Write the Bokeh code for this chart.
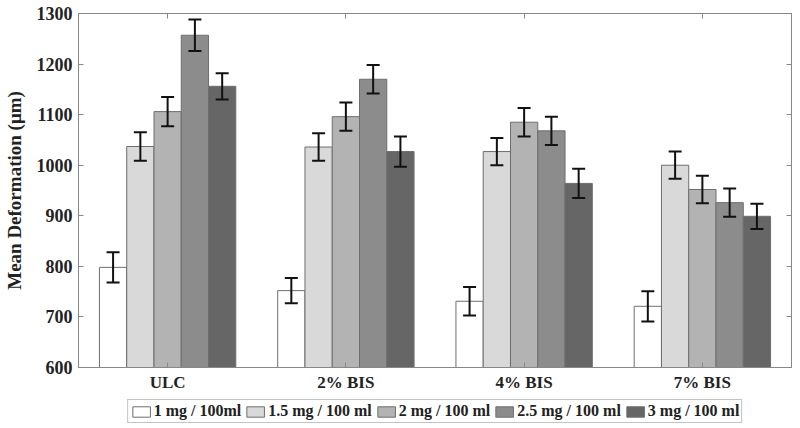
from bokeh.plotting import figure
from bokeh.layouts import column
from bokeh.models import (ColumnDataSource, FixedTicker, LinearAxis, Legend, LegendItem,
                          Whisker, TeeHead, Range1d)
from bokeh.embed import file_html
from bokeh.resources import INLINE

categories = ["ULC", "2% BIS", "4% BIS", "7% BIS"]
series = ["1 mg / 100ml", "1.5 mg / 100 ml", "2 mg / 100 ml", "2.5 mg / 100 ml", "3 mg / 100 ml"]
values = [
    [798, 752, 731, 721],
    [1037, 1036, 1027, 1000],
    [1106, 1096, 1085, 952],
    [1257, 1170, 1068, 926],
    [1156, 1027, 964, 899],
]
errors = [
    [30, 25, 28, 30],
    [28, 27, 27, 27],
    [29, 28, 28, 27],
    [31, 28, 28, 28],
    [26, 30, 29, 25],
]
colors = ["#ffffff", "#d9d9d9", "#b3b3b3", "#8c8c8c", "#666666"]
y_ticks = [600, 700, 800, 900, 1000, 1100, 1200, 1300]
x_ticks = [1, 2, 3, 4]

FONT = "Liberation Serif"
EDGE = "#6e6e6e"

p = figure(width=800, height=395, output_backend="svg", toolbar_location=None,
           x_range=Range1d(0.5, 4.5), y_range=Range1d(600, 1300),
           min_border_left=76, min_border_right=9, min_border_top=13, min_border_bottom=28)
p.grid.visible = False
p.outline_line_color = "#888888"
p.background_fill_color = "white"
p.border_fill_color = "white"

# legend strip underneath the chart (hidden renderers share the series data)
lf = figure(width=800, height=33, output_backend="svg", toolbar_location=None,
            x_range=p.x_range, y_range=p.y_range,
            x_axis_location=None, y_axis_location=None,
            min_border_left=64, min_border_right=0, min_border_top=2, min_border_bottom=3)
lf.grid.visible = False
lf.outline_line_color = None
lf.border_fill_color = "white"
lf.background_fill_color = "white"

bw = 0.153
items = []
for i, s in enumerate(series):
    xs = [k + 1 + (i - 2) * bw for k in range(len(categories))]
    src = ColumnDataSource(dict(x=xs, top=values[i],
                                upper=[v + e for v, e in zip(values[i], errors[i])],
                                lower=[v - e for v, e in zip(values[i], errors[i])]))
    p.vbar(x="x", top="top", bottom=600, width=bw, source=src,
           fill_color=colors[i], line_color=EDGE, line_width=1)
    w = Whisker(base="x", upper="upper", lower="lower", source=src, level="overlay",
                line_color="#111111", line_width=2,
                upper_head=TeeHead(size=13, line_width=2, line_color="#111111"),
                lower_head=TeeHead(size=13, line_width=2, line_color="#111111"))
    p.add_layout(w)
    r = lf.vbar(x="x", top="top", bottom=600, width=bw, source=src,
                fill_color=colors[i], line_color=EDGE, line_width=1, visible=False)
    items.append(LegendItem(label=s, renderers=[r]))

def style_axis(ax):
    ax.axis_line_color = "#888888"
    ax.major_tick_line_color = "#888888"
    ax.major_tick_in = 5
    ax.major_tick_out = 0
    ax.minor_tick_line_color = None
    ax.major_label_text_font = FONT
    ax.major_label_text_font_style = "bold"
    ax.major_label_text_font_size = "17px"
    ax.major_label_text_color = "#222222"

p.xaxis.ticker = FixedTicker(ticks=x_ticks)
p.xaxis.major_label_overrides = {t: c for t, c in zip(x_ticks, categories)}
p.yaxis.ticker = FixedTicker(ticks=y_ticks)
style_axis(p.xaxis[0])
style_axis(p.yaxis[0])
p.yaxis.major_label_text_font_size = "18px"
p.xaxis.major_label_standoff = 5
p.yaxis.major_label_standoff = 6
p.yaxis.axis_label = "Mean Deformation (\u03bcm)"
p.yaxis.axis_label_text_font = FONT
p.yaxis.axis_label_text_font_style = "bold"
p.yaxis.axis_label_text_font_size = "19px"
p.yaxis.axis_label_text_color = "#222222"
p.yaxis.axis_label_standoff = 9

top_ax = LinearAxis(ticker=FixedTicker(ticks=x_ticks),
                    major_label_overrides={t: "" for t in x_ticks})
style_axis(top_ax)
top_ax.major_label_standoff = 0
p.add_layout(top_ax, "above")
right_ax = LinearAxis(ticker=FixedTicker(ticks=y_ticks),
                      major_label_overrides={t: "" for t in y_ticks})
style_axis(right_ax)
right_ax.major_label_standoff = 0
p.add_layout(right_ax, "right")

legend = Legend(items=items, orientation="horizontal", location="center")
legend.click_policy = "none"
legend.label_text_font = FONT
legend.label_text_font_style = "bold"
legend.label_text_font_size = "16px"
legend.label_text_color = "#222222"
legend.glyph_width = 22
legend.glyph_height = 13
legend.label_height = 14
legend.label_standoff = 2
legend.spacing = 3
legend.padding = 2
legend.margin = 0
legend.border_line_color = "#888888"
legend.border_line_width = 1
lf.add_layout(legend)

open("out.html", "w").write(file_html(column(p, lf, spacing=0), INLINE))
